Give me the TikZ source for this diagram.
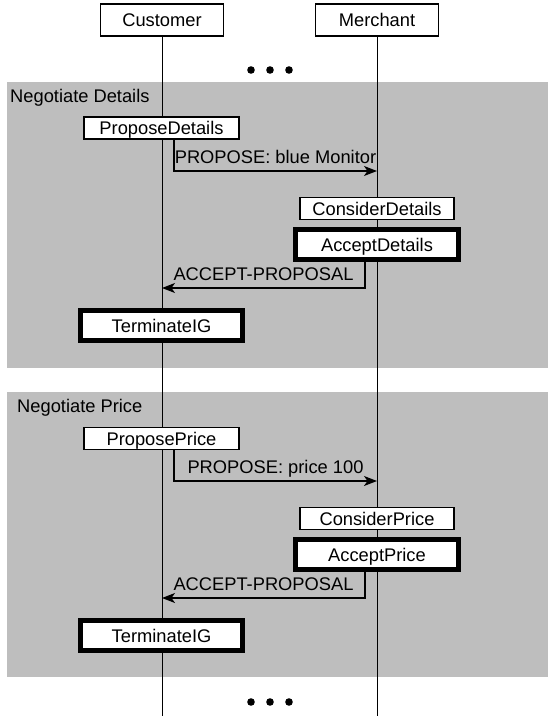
\documentclass[tikz,border=0pt]{standalone}
\usepackage{fontspec}
\setmainfont{Liberation Sans}
\usetikzlibrary{arrows.meta}
\definecolor{phasegray}{RGB}{190,190,190}
\pgfdeclarelayer{back}
\pgfdeclarelayer{mid}
\pgfsetlayers{back,mid,main}
\begin{document}
\begin{tikzpicture}[x=1pt,y=-1pt,
  font=\fontsize{18.3}{22}\selectfont,
  role/.style={draw, line width=1.3pt, fill=white, minimum width=123pt,
    minimum height=32pt, inner sep=0pt, text height=13pt, text depth=0pt},
  act/.style={draw, line width=1.2pt, fill=white, minimum height=22pt,
    inner sep=0pt, text height=13pt, text depth=0pt},
  final/.style={act, line width=4.6pt, minimum height=30pt, minimum width=162pt},
  msg/.style={line width=1.2pt, -{Stealth[length=13pt,width=10pt,inset=3.5pt]}},
  msglabel/.style={anchor=base, yshift=8pt, inner sep=0pt},
  phase/.style={fill=phasegray},
  phaselabel/.style={anchor=base west, inner sep=0pt},
  life/.style={line width=1pt},
  dot/.style={fill=black}]

\useasboundingbox (0,0) rectangle (548,716);
\coordinate (bottom) at (270,716);

% participants
\node[role] (cust) at (162,20) {Customer};
\node[role] (merch) at (377,20) {Merchant};

% first phase: negotiate details
\node[act, minimum width=155pt] (pd) at (161.5,128) {ProposeDetails};
\node[act, minimum width=154pt] (cd) at (377,208.5) {ConsiderDetails};
\node[final, minimum width=163pt] (ad) at (377,244.5) {AcceptDetails};
\node[final] (t1) at (161.5,325.5) {TerminateIG};

% second phase: negotiate price
\node[act, minimum width=155pt] (pp) at (161.5,438.5) {ProposePrice};
\node[act, minimum width=154pt] (cp) at (377,518.5) {ConsiderPrice};
\node[final, minimum width=163pt] (ap) at (377,554.5) {AcceptPrice};
\node[final] (t2) at (161.5,635.5) {TerminateIG};

% phase backgrounds
\begin{pgfonlayer}{back}
  \fill[phase] (7,82) rectangle (548,368);
  \fill[phase] (7,392) rectangle (548,677);
\end{pgfonlayer}
\node[phaselabel] (ph1) at (10,102) {Negotiate Details};
\node[phaselabel] (ph2) at (17,412) {Negotiate Price};

% lifelines
\begin{pgfonlayer}{mid}
  \draw[life] (cust.south) -- (cust.south |- bottom);
  \draw[life] (merch.south) -- (merch.south |- bottom);
\end{pgfonlayer}

% continuation marks
\foreach \y in {70,702} {
  \fill[dot] (251,\y) circle (3.8);
  \fill[dot] (270,\y) circle (3.8);
  \fill[dot] (289,\y) circle (3.8);
}

% messages
\coordinate (m1) at (174,171);
\coordinate (m2) at (365,288);
\coordinate (m3) at (174,481);
\coordinate (m4) at (365,598);
\draw[msg] (pd.south -| m1) |- (m1 -| merch.south)
  node[msglabel, pos=0.75] (l1) {PROPOSE: blue Monitor};
\draw[msg] (ad.south -| m2) |- (m2 -| cust.south)
  node[msglabel, pos=0.75] (l2) {ACCEPT-PROPOSAL};
\draw[msg] (pp.south -| m3) |- (m3 -| merch.south)
  node[msglabel, pos=0.75] (l3) {PROPOSE: price 100};
\draw[msg] (ap.south -| m4) |- (m4 -| cust.south)
  node[msglabel, pos=0.75] (l4) {ACCEPT-PROPOSAL};
\end{tikzpicture}
\end{document}
